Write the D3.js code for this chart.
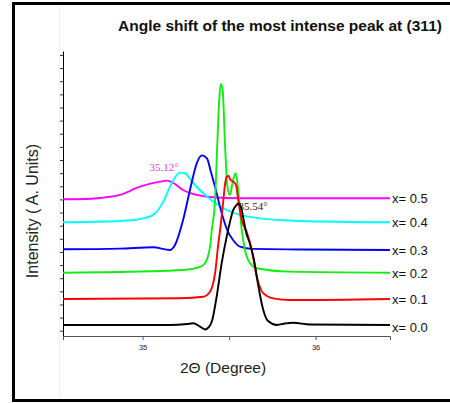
<!DOCTYPE html>
<html>
<head>
<meta charset="utf-8">
<script src="https://cdn.jsdelivr.net/npm/d3@7"></script>
<style>
  body { margin: 0; background: #fff; }
  svg { display: block; font-family: Arial, "Liberation Sans", sans-serif; }
</style>
</head>
<body>
<div id="chart"></div>
<script>
// 2theta (degree) and intensity (a.u., stacked)
const theta05 = [34.540, 34.667, 34.754, 34.869, 34.985, 35.101, 35.141, 35.180, 35.234, 35.315, 35.407, 35.563, 35.910, 36.430]
const int05   = [10.41, 10.43, 10.51, 10.74, 11.37, 11.75, 11.83, 11.63, 11.12, 10.74, 10.56, 10.49, 10.49, 10.49]

const theta04 = [34.540, 34.869, 34.985, 35.062, 35.120, 35.168, 35.216, 35.245, 35.293, 35.351, 35.409, 35.486, 35.563, 35.679, 35.794, 35.910, 36.430]
const int04   = [8.66, 8.76, 8.91, 9.22, 10.23, 11.63, 12.44, 12.39, 11.63, 10.87, 10.23, 9.60, 9.22, 8.96, 8.83, 8.76, 8.66]

const theta03 = [34.540, 34.869, 35.060, 35.158, 35.187, 35.234, 35.274, 35.313, 35.343, 35.372, 35.395, 35.419, 35.457, 35.494, 35.523, 35.563, 35.638, 35.910, 36.430]
const int03   = [6.60, 6.65, 6.76, 6.55, 6.93, 8.83, 11.12, 13.15, 13.75, 13.52, 12.49, 11.35, 9.37, 7.92, 7.31, 6.80, 6.63, 6.59, 6.55]

const theta02 = [34.540, 34.754, 35.235, 35.332, 35.361, 35.390, 35.400, 35.419, 35.432, 35.443, 35.453, 35.463, 35.476, 35.490, 35.505, 35.523, 35.538, 35.553, 35.573, 35.592, 35.621, 35.660, 35.852, 36.430]
const int02   = [4.82, 4.85, 5.03, 5.26, 5.54, 6.80, 8.07, 10.36, 14.70, 17.97, 19.19, 18.74, 14.70, 11.37, 10.74, 11.88, 12.39, 11.12, 8.07, 6.55, 5.54, 5.16, 4.90, 4.82]

const theta01 = [34.540, 35.216, 35.351, 35.390, 35.419, 35.438, 35.448, 35.467, 35.476, 35.486, 35.497, 35.505, 35.517, 35.530, 35.540, 35.553, 35.573, 35.602, 35.631, 35.660, 35.698, 35.756, 35.852, 36.430]
const int01   = [2.82, 2.87, 2.99, 3.37, 4.78, 7.06, 8.07, 10.36, 11.50, 12.13, 12.19, 11.96, 11.81, 11.68, 11.50, 10.36, 8.83, 7.92, 6.55, 4.52, 3.25, 2.87, 2.74, 2.82]

const theta00 = [34.540, 35.158, 35.255, 35.293, 35.332, 35.361, 35.384, 35.401, 35.428, 35.457, 35.486, 35.505, 35.524, 35.544, 35.553, 35.569, 35.582, 35.598, 35.621, 35.644, 35.667, 35.696, 35.725, 35.777, 35.823, 35.869, 35.968, 36.430]
const int00   = [0.84, 0.84, 0.91, 0.97, 0.71, 0.50, 0.69, 1.14, 2.99, 5.54, 7.56, 8.68, 9.60, 9.98, 10.09, 9.82, 8.99, 7.92, 7.01, 5.79, 3.96, 2.06, 1.14, 0.84, 0.95, 1.01, 0.88, 0.84]

const seriesNames = ['x= 0.5', 'x= 0.4', 'x= 0.3', 'x= 0.2', 'x= 0.1', 'x= 0.0']
const seriesColors = ['#ff00ff', '#00ffff', '#0000ff', '#11ee11', '#ff0000', '#000000']
const thetas = [theta05, theta04, theta03, theta02, theta01, theta00]
const intensities = [int05, int04, int03, int02, int01, int00]

const xTicks = [35, 35.5, 36]
const xTickLabels = ['35', '', '36']
const yTicks = d3.range(0.4, 21.5, 1)

const peakLabels = [
    { text: '35.12°', theta: 35.04, value: 12.6, color: '#e040e0' },
    { text: '35.54°', theta: 35.555, value: 9.6, color: '#222' }
]

const width = 450, height = 403
const svg = d3.select('#chart').append('svg')
    .attr('width', width)
    .attr('height', height)

// frame
svg.append('rect')
    .attr('x', 13.5).attr('y', 3.5)
    .attr('width', 460).attr('height', 397)
    .attr('fill', 'none').attr('stroke', '#000').attr('stroke-width', 3)

svg.append('line')
    .attr('x1', 59.5).attr('x2', 59.5).attr('y1', 5).attr('y2', 399)
    .attr('stroke', '#f0f0f0')

const x = d3.scaleLinear().domain([34.54, 36.43]).range([63, 390])
const y = d3.scaleLinear().domain([0, 21.7]).range([336, 51])

// axes
const xAxis = svg.append('g')
    .attr('transform', `translate(0,${y(0)})`)
    .call(d3.axisBottom(x).tickValues(xTicks).tickSize(4).tickFormat((d, i) => xTickLabels[i]))
xAxis.select('.domain').attr('stroke', '#555')
xAxis.selectAll('.tick line').attr('stroke', '#555')
xAxis.selectAll('text').attr('font-size', 7.5).attr('dy', '0.9em').attr('fill', '#222')

const yAxis = svg.append('g')
    .attr('transform', `translate(${x(34.54)},0)`)
    .call(d3.axisLeft(y).tickValues(yTicks).tickSize(3).tickSizeOuter(0).tickFormat(''))
yAxis.select('.domain').attr('stroke', '#000')
yAxis.selectAll('.tick line').attr('stroke', '#333')

// curves
const line = d3.line()
    .x(d => x(d[0]))
    .y(d => y(d[1]))
    .curve(d3.curveMonotoneX)

seriesNames.forEach((name, i) => {
    const pts = thetas[i].map((t, j) => [t, intensities[i][j]])
    svg.append('path')
        .datum(pts)
        .attr('d', line)
        .attr('fill', 'none')
        .attr('stroke', seriesColors[i])
        .attr('stroke-width', 1.9)
        .attr('stroke-linejoin', 'round')

    const last = pts[pts.length - 1]
    svg.append('text')
        .attr('x', x(last[0]) + 2)
        .attr('y', y(last[1]) + (i === 5 ? 7.5 : 5))
        .attr('font-size', 13)
        .attr('fill', '#111')
        .text(name)
})

peakLabels.forEach(p => {
    svg.append('text')
        .attr('x', x(p.theta))
        .attr('y', y(p.value))
        .attr('font-family', '"Liberation Serif", "DejaVu Serif", serif')
        .attr('font-size', 11)
        .attr('fill', p.color)
        .text(p.text)
})

// titles
svg.append('text')
    .attr('x', 280).attr('y', 31)
    .attr('text-anchor', 'middle')
    .attr('font-size', 15.5).attr('font-weight', 'bold')
    .attr('fill', '#111')
    .text('Angle shift of the most intense peak at (311)')

svg.append('text')
    .attr('transform', 'translate(37.5,211) rotate(-90)')
    .attr('text-anchor', 'middle')
    .attr('font-size', 16)
    .attr('fill', '#222')
    .text('Intensity ( A. Units)')

svg.append('text')
    .attr('x', 223).attr('y', 373)
    .attr('text-anchor', 'middle')
    .attr('font-size', 15.5)
    .attr('fill', '#222')
    .text('2Θ (Degree)')
</script>
</body>
</html>
